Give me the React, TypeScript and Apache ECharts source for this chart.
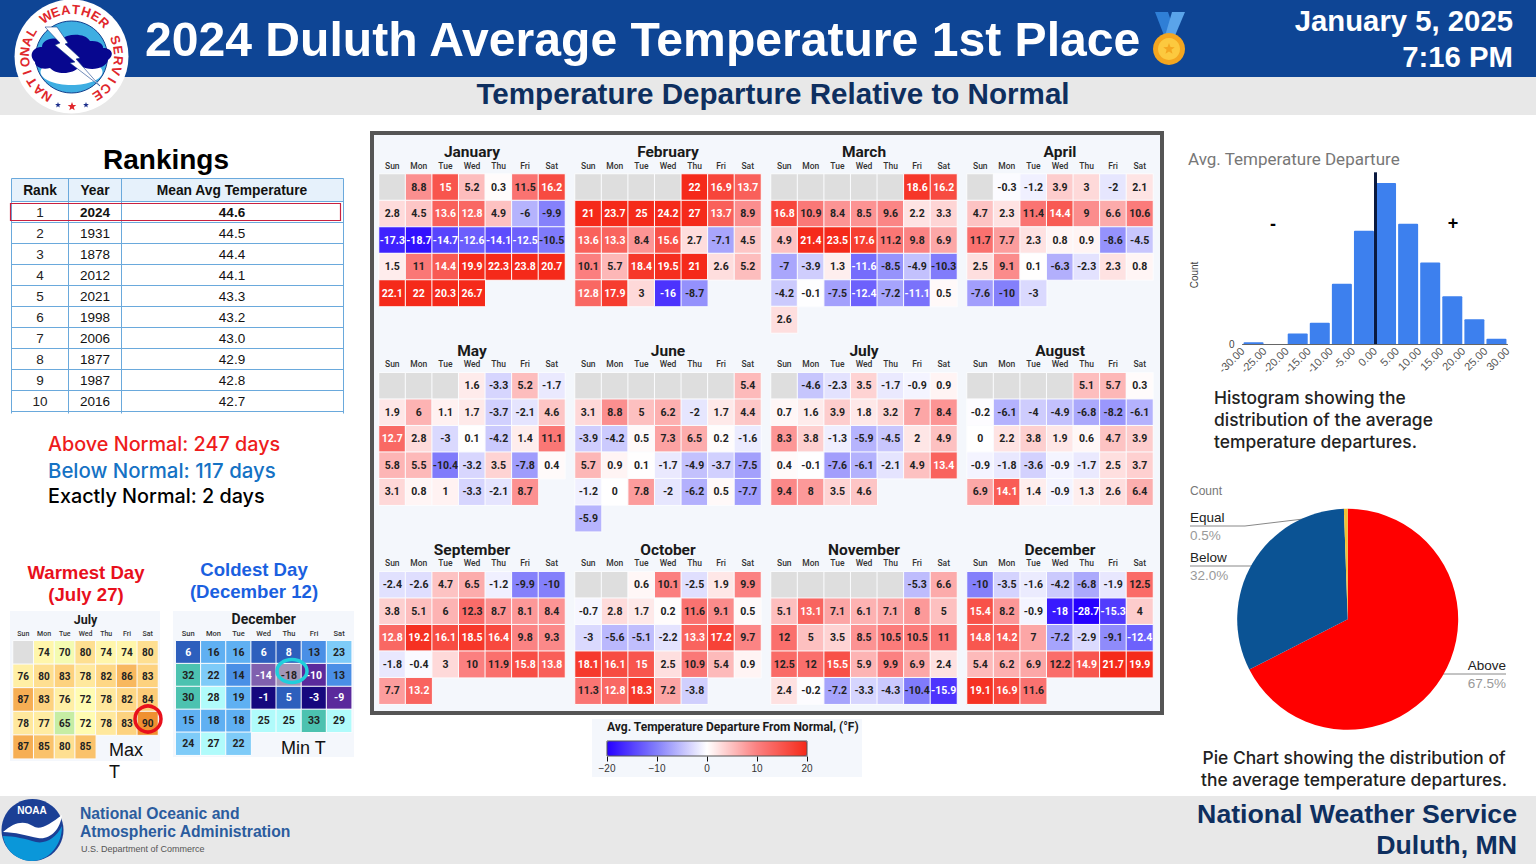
import React, { useEffect, useRef } from "react";
import * as echarts from "echarts";

const monthNames = ["January","February","March","April","May","June","July","August","September","October","November","December"];
const weekdays = ["Sun","Mon","Tue","Wed","Thu","Fri","Sat"];
const firstWeekdays = [1,4,5,1,3,6,1,4,0,2,5,0];

const january = [8.8,15,5.2,0.3,11.5,16.2, 2.8,4.5,13.6,12.8,4.9,-6,-9.9, -17.3,-18.7,-14.7,-12.6,-14.1,-12.5,-10.5, 1.5,11,14.4,19.9,22.3,23.8,20.7, 22.1,22,20.3,26.7];
const february = [22,16.9,13.7, 21,23.7,25,24.2,27,13.7,8.9, 13.6,13.3,8.4,15.6,2.7,-7.1,4.5, 10.1,5.7,18.4,19.5,21,2.6,5.2, 12.8,17.9,3,-16,-8.7];
const march = [18.6,16.2, 16.8,10.9,8.4,8.5,9.6,2.2,3.3, 4.9,21.4,23.5,17.6,11.2,9.8,6.9, -7,-3.9,1.3,-11.6,-8.5,-4.9,-10.3, -4.2,-0.1,-7.5,-12.4,-7.2,-11.1,0.5, 2.6];
const april = [-0.3,-1.2,3.9,3,-2,2.1, 4.7,2.3,11.4,14.4,9,6.6,10.6, 11.7,7.7,2.3,0.8,0.9,-8.6,-4.5, 2.5,9.1,0.1,-6.3,-2.3,2.3,0.8, -7.6,-10,-3];
const may = [1.6,-3.3,5.2,-1.7, 1.9,6,1.1,1.7,-3.7,-2.1,4.6, 12.7,2.8,-3,0.1,-4.2,1.4,11.1, 5.8,5.5,-10.4,-3.2,3.5,-7.8,0.4, 3.1,0.8,1,-3.3,-2.1,8.7];
const june = [5.4, 3.1,8.8,5,6.2,-2,1.7,4.4, -3.9,-4.2,0.5,7.3,6.5,0.2,-1.6, 5.7,0.9,0.1,-1.7,-4.9,-3.7,-7.5, -1.2,0,7.8,-2,-6.2,0.5,-7.7, -5.9];
const july = [-4.6,-2.3,3.5,-1.7,-0.9,0.9, 0.7,1.6,3.9,1.8,3.2,7,8.4, 8.3,3.8,-1.3,-5.9,-4.5,2,4.9, 0.4,-0.1,-7.6,-6.1,-2.1,4.9,13.4, 9.4,8,3.5,4.6];
const august = [5.1,5.7,0.3, -0.2,-6.1,-4,-4.9,-6.8,-8.2,-6.1, 0,2.2,3.8,1.9,0.6,4.7,3.9, -0.9,-1.8,-3.6,-0.9,-1.7,2.5,3.7, 6.9,14.1,1.4,-0.9,1.3,2.6,6.4];
const september = [-2.4,-2.6,4.7,6.5,-1.2,-9.9,-10, 3.8,5.1,6,12.3,8.7,8.1,8.4, 12.8,19.2,16.1,18.5,16.4,9.8,9.3, -1.8,-0.4,3,10,11.9,15.8,13.8, 7.7,13.2];
const october = [0.6,10.1,-2.5,1.9,9.9, -0.7,2.8,1.7,0.2,11.6,9.1,0.5, -3,-5.6,-5.1,-2.2,13.3,17.2,9.7, 18.1,16.1,15,2.5,10.9,5.4,0.9, 11.3,12.8,18.3,7.2,-3.8];
const november = [-5.3,6.6, 5.1,13.1,7.1,6.1,7.1,8,5, 12,5,3.5,8.5,10.5,10.5,11, 12.5,12,15.5,5.9,9.9,6.9,2.4, 2.4,-0.2,-7.2,-3.3,-4.3,-10.4,-15.9];
const december = [-10,-3.5,-1.6,-4.2,-6.8,-1.9,12.5, 15.4,8.2,-0.9,-18,-28.7,-15.3,4, 14.8,14.2,7,-7.2,-2.9,-9.1,-12.4, 5.4,6.2,6.9,12.2,14.9,21.7,19.9, 19.1,16.9,11.6];
const monthValues = [january,february,march,april,may,june,july,august,september,october,november,december];

const julyMaxT = [74,70,80,74,74,80, 76,80,83,78,82,86,83, 87,83,76,72,78,82,84, 78,77,65,72,78,83,90, 87,85,80,85];
const decemberMinT = [6,16,16,6,8,13,23, 32,22,14,-14,-18,-10,13, 30,28,19,-1,5,-3,-9, 15,18,18,25,25,33,29, 24,27,22];

const rankNumbers = [1,2,3,4,5,6,7,8,9,10];
const rankYears = [2024,1931,1878,2012,2021,1998,2006,1877,1987,2016];
const rankTemps = ["44.6","44.5","44.4","44.1","43.3","43.2","43.0","42.9","42.8","42.7"];

const histogramCentres = [-27.5,-22.5,-17.5,-12.5,-7.5,-2.5,2.5,7.5,12.5,17.5,22.5,27.5];
const histogramCounts = [1,0,6,12,34,64,91,68,46,27,14,3];

const pieNames = ["Above","Below","Equal"];
const pieCounts = [247,117,2];

const SANS = '"Liberation Sans"';
const ROBOTO = "Roboto";
const INTER = "Inter";
const NAVY = "#0e2f5f";

const cloudPath = "M35 62C28 55 33 47 42 47C42 40 52 36 60 40C68 33 85 33 90 41C100 40 104 46 103 48C112 48 115 55 108 60C106 68 92 72 80 66C72 76 55 74 50 68C42 70 35 67 35 62Z";
const gullPath = "M3 832C14 822 24 820 33 826C40 831 50 824 62 815C60 830 50 840 38 838C28 836 14 832 3 832Z";
const lowerPath = "M3 836C14 836 26 839 36 842C46 844 56 838 62 826C62 846 48 861 32 861C17 861 5 850 3 836Z";
echarts.graphic.registerShape("nwsCloud", echarts.graphic.extendPath(cloudPath, {}));
echarts.graphic.registerShape("noaaGull", echarts.graphic.extendPath(gullPath, {}));
echarts.graphic.registerShape("noaaLower", echarts.graphic.extendPath(lowerPath, {}));

function T(text: string, x: number, y: number, font: string, fill: string, align = "left", z = 100, rotation = 0) {
  return {
    type: "text", x, y, rotation, z,
    style: { text, font, fill, align, verticalAlign: "middle", textAlign: align, textVerticalAlign: "middle" },
  };
}
function R(x: number, y: number, w: number, h: number, fill: string, z = 0, stroke?: string, lineWidth = 0) {
  return { type: "rect", z, shape: { x, y, width: w, height: h }, style: { fill, stroke, lineWidth } };
}
function L(x1: number, y1: number, x2: number, y2: number, stroke: string, lineWidth = 1, z = 100) {
  return { type: "line", z, shape: { x1, y1, x2, y2 }, style: { stroke, lineWidth } };
}
function star(cx: number, cy: number, r: number, fill: string) {
  const points: number[][] = [];
  for (let i = 0; i < 10; i++) {
    const a = -Math.PI / 2 + (i * Math.PI) / 5;
    const q = i % 2 ? r * 0.42 : r;
    points.push([cx + q * Math.cos(a), cy + q * Math.sin(a)]);
  }
  return { type: "polygon", z: 103, shape: { points }, style: { fill } };
}

function cells(values: number[], first: number, colour: (v: number) => string) {
  return values.map((v, i) => {
    const p = i + first;
    return { value: [p % 7, Math.floor(p / 7), v], label: { color: colour(v) } };
  });
}
function blanks(first: number) {
  const out: number[][] = [];
  for (let i = 0; i < first; i++) out.push([i, 0, 1]);
  return out;
}

function buildOption() {
  const grids: any[] = [], xAxes: any[] = [], yAxes: any[] = [], series: any[] = [];
  const monthSeries: number[] = [];
  const blankSeries: number[] = [];
  const calendar = (
    name: string, left: number, top: number, w: number, rowH: number, rows: number,
    values: number[], first: number, colour: (v: number) => string,
    titleSize: number, dayFont: number, valueFont: number, titleGap: number, dayMargin: number,
  ) => {
    const idx = grids.length;
    grids.push({ left, top, width: w, height: rowH * rows, containLabel: false });
    xAxes.push({
      type: "category", gridIndex: idx, position: "top", data: weekdays,
      axisLine: { show: false }, axisTick: { show: false }, splitLine: { show: false },
      axisLabel: { interval: 0, fontSize: dayFont, fontFamily: ROBOTO, fontWeight: 500, color: "#333", margin: dayMargin },
      name, nameLocation: "middle", nameGap: titleGap,
      nameTextStyle: { fontSize: titleSize, fontFamily: ROBOTO, fontWeight: "bold", color: "#1a1a1a" },
    });
    yAxes.push({
      type: "category", gridIndex: idx, inverse: true, show: false,
      data: Array.from({ length: rows }, (_, i) => String(i)),
    });
    if (first > 0) {
      blankSeries.push(series.length);
      series.push({
        type: "heatmap", xAxisIndex: idx, yAxisIndex: idx, data: blanks(first), z: 2,
        itemStyle: { borderColor: "#fbfcfe", borderWidth: 1 },
        label: { show: false },
        emphasis: { disabled: true },
      });
    }
    const sIdx = series.length;
    series.push({
      type: "heatmap", xAxisIndex: idx, yAxisIndex: idx, z: 3,
      data: cells(values, first, colour),
      itemStyle: { borderColor: "#fbfcfe", borderWidth: 1 },
      label: {
        show: true, fontSize: valueFont, fontFamily: ROBOTO, fontWeight: 700,
        formatter: (p: any) => String(p.value[2]),
      },
      emphasis: { disabled: true },
    });
    return sIdx;
  };

  const lefts = [379, 575, 771, 967];
  const tops = [174, 372.7, 571.7];
  monthNames.forEach((name, m) => {
    const s = calendar(
      name, lefts[m % 4], tops[Math.floor(m / 4)], 186, 26.5, 6,
      monthValues[m], firstWeekdays[m],
      (v) => (v > 12.5 || v < -11 ? "#ffffff" : "#222222"),
      15.5, 8.5, 10.5, 14, 4,
    );
    monthSeries.push(s);
  });
  const julyIdx = calendar("July", 13, 640.7, 145, 23.6, 5, julyMaxT, 1, () => "#222222", 12.5, 7, 10, 15, 3);
  const decIdx = calendar("December", 175.7, 640.7, 176, 22.9, 5, decemberMinT, 0,
    (v) => (v <= 8 && v !== -18 ? "#ffffff" : "#222222"), 14, 7.5, 10.5, 15, 3);

  // colour-bar tick axis
  const legendGrid = grids.length;
  grids.push({ left: 607, top: 755.5, width: 200, height: 1 });
  xAxes.push({
    type: "value", gridIndex: legendGrid, min: -20, max: 20, interval: 10, position: "bottom",
    axisLine: { show: false }, splitLine: { show: false },
    axisTick: { show: true, length: 5, lineStyle: { color: "#111" } },
    axisLabel: { fontSize: 10, fontFamily: SANS, color: "#333", margin: 7, formatter: (v: number) => String(v).replace("-", "\u2212") },
  });
  yAxes.push({ type: "value", gridIndex: legendGrid, show: false });
  series.push({ type: "scatter", xAxisIndex: legendGrid, yAxisIndex: legendGrid, data: [] });

  // histogram
  const histGrid = grids.length;
  grids.push({ left: 1242.5, top: 167, width: 265, height: 177 });
  xAxes.push({
    type: "value", gridIndex: histGrid, min: -30, max: 30, interval: 5,
    axisLine: { show: true, onZero: false, lineStyle: { color: "#666" } }, axisTick: { show: false }, splitLine: { show: false },
    axisLabel: { rotate: 45, fontSize: 11, fontFamily: SANS, color: "#555", margin: 5, formatter: (v: number) => v.toFixed(2) },
  });
  yAxes.push({
    type: "value", gridIndex: histGrid, min: 0, max: 100, interval: 100,
    axisLine: { show: false }, axisTick: { show: false }, splitLine: { show: false },
    axisLabel: { fontSize: 10, fontFamily: SANS, color: "#444", margin: 8, formatter: (v: number) => (v === 0 ? "0" : "") },
  });
  series.push({
    type: "bar", xAxisIndex: histGrid, yAxisIndex: histGrid, barWidth: 20,
    data: histogramCentres.map((c, i) => [c, histogramCounts[i]]),
    itemStyle: { color: "#3d80ee", borderRadius: [1, 1, 0, 0] },
    markLine: {
      silent: true, symbol: "none", label: { show: false },
      lineStyle: { color: "#0a1a40", width: 3, type: "solid" },
      data: [[{ coord: [0, 0] }, { coord: [0, 97] }]],
    },
  });

  // pie
  const pieTotal = pieCounts.reduce((a, b) => a + b, 0);
  const pieLayouts = [
    { x: 1506, y: 674, align: "right", labelLinePoints: [[1437, 674], [1506, 674], [1506, 674]] },
    { x: 1190, y: 566, align: "left", labelLinePoints: [[1257, 566], [1190, 566], [1190, 566]] },
    { x: 1190, y: 526, align: "left", labelLinePoints: [[1345, 514], [1245, 526], [1190, 526]] },
  ];
  series.push({
    type: "pie", center: [1347.7, 619.3], radius: 110.5, startAngle: 90, clockwise: true,
    data: pieNames.map((name, i) => ({ name, value: pieCounts[i] })),
    color: ["#ff0000", "#0b5394", "#f1c232"],
    label: {
      position: "outside", width: 70, overflow: "none",
      formatter: (p: any) => {
        const pct = ((p.value / pieTotal) * 100).toFixed(1);
        return p.dataIndex === 0 ? `{nr|${p.name}}\n{pr|${pct}%}` : `{n|${p.name}}\n{p|${pct}%}`;
      },
      rich: {
        n: { fontSize: 13.5, fontFamily: SANS, color: "#222", lineHeight: 18, align: "left" },
        p: { fontSize: 13.5, fontFamily: SANS, color: "#999", lineHeight: 18, align: "left" },
        nr: { fontSize: 13.5, fontFamily: SANS, color: "#222", lineHeight: 18, align: "right" },
        pr: { fontSize: 13.5, fontFamily: SANS, color: "#999", lineHeight: 18, align: "right" },
      },
    },
    labelLine: { show: true, lineStyle: { color: "#888", width: 1 } },
    labelLayout: (p: any) => {
      const l = pieLayouts[p.dataIndex];
      return { x: l.x, y: l.y, align: l.align, verticalAlign: "middle", labelLinePoints: l.labelLinePoints };
    },
    emphasis: { disabled: true },
  });

  // graphic elements
  const el: any[] = [];
  el.push(R(0, 0, 1536, 864, "#ffffff", -2));
  el.push(R(0, 0, 1536, 77, "#0e4595", -1));
  el.push(R(0, 77, 1536, 38, "#e8e8e8", -1));
  el.push(R(0, 796, 1536, 68, "#e8e8e8", -1));
  el.push(R(372, 133, 790, 580, "#f4f7fc", -1, "#555555", 4));
  el.push(R(592, 719, 270, 58, "#f4f7fc", -1));
  el.push(R(10, 611, 150, 150, "#f4f7fc", -1));
  el.push(R(173, 611, 181, 146, "#f4f7fc", -1));

  el.push(T("2024 Duluth Average Temperature 1st Place", 145, 38.5, `bold 48.1px ${SANS}`, "#ffffff"));
  el.push(T("January 5, 2025", 1513, 20, `bold 29.3px ${SANS}`, "#ffffff", "right"));
  el.push(T("7:16 PM", 1513, 56, `bold 29.3px ${SANS}`, "#ffffff", "right"));
  el.push(T("Temperature Departure Relative to Normal", 773, 93.5, `bold 29.6px ${SANS}`, NAVY, "center"));
  el.push(T("National Oceanic and", 80, 813, `bold 15.7px ${SANS}`, "#2b5c9e"));
  el.push(T("Atmospheric Administration", 80, 831, `bold 15.7px ${SANS}`, "#2b5c9e"));
  el.push(T("U.S. Department of Commerce", 81, 849, `9px ${SANS}`, "#555555"));
  el.push(T("National Weather Service", 1517, 814, `bold 26.7px ${SANS}`, NAVY, "right"));
  el.push(T("Duluth, MN", 1517, 845, `bold 26.7px ${SANS}`, NAVY, "right"));

  // medal
  el.push({ type: "polygon", z: 101, shape: { points: [[1155, 12], [1168, 12], [1176, 36], [1165, 38]] }, style: { fill: "#2f7fd6" } });
  el.push({ type: "polygon", z: 101, shape: { points: [[1172, 12], [1185, 12], [1174, 38], [1165, 36]] }, style: { fill: "#5aa4ea" } });
  el.push({ type: "circle", z: 102, shape: { cx: 1169, cy: 49, r: 16 }, style: { fill: "#f4a620" } });
  el.push({ type: "circle", z: 102, shape: { cx: 1169, cy: 49, r: 11 }, style: { fill: "#fcc93f" } });
  el.push(star(1169, 49, 6, "#f4a620"));

  // NWS logo
  el.push({ type: "circle", z: 100, shape: { cx: 71.5, cy: 56.5, r: 57 }, style: { fill: "#ffffff" } });
  el.push({ type: "circle", z: 101, shape: { cx: 71.5, cy: 57, r: 36 }, style: { fill: "#3eaee2", stroke: "#123f8c", lineWidth: 1 } });
  el.push({ type: "ellipse", z: 101, shape: { cx: 71.5, cy: 72, rx: 31, ry: 13 }, style: { fill: "#ffffff" } });
  el.push({ type: "nwsCloud", z: 102, x: 0, y: 0, style: { fill: "#07078f" } });
  el.push({ type: "polygon", z: 103, shape: { points: [[45, 27], [57, 27], [68, 43], [65, 44], [80, 58], [76, 59], [100, 86], [70, 63], [75, 62], [55, 45], [60, 43]] }, style: { fill: "#ffffff", stroke: "#123f8c", lineWidth: 0.6 } });
  const logoText = "NATIONAL WEATHER SERVICE";
  logoText.split("").forEach((ch, i) => {
    if (ch === " ") return;
    const deg = 212 + (i * 294) / (logoText.length - 1);
    const a = (deg * Math.PI) / 180;
    el.push(T(ch, 71.5 + 47 * Math.sin(a), 56.5 - 47 * Math.cos(a), `bold 13px ${SANS}`, "#e0262b", "center", 103, -a));
  });
  el.push(star(58, 105, 3, "#1c2f8c"));
  el.push(star(72, 106.5, 4.5, "#e0262b"));
  el.push(star(86, 105, 3, "#1c2f8c"));

  // NOAA logo
  el.push({ type: "circle", z: 100, shape: { cx: 32.5, cy: 830, r: 31 }, style: { fill: "#1b3f95" } });
  el.push({ type: "noaaLower", z: 101, x: 0, y: 0, style: { fill: "#0a97d9" } });
  el.push({ type: "noaaGull", z: 102, x: 0, y: 0, style: { fill: "#ffffff" } });
  el.push(T("NOAA", 32, 810, `bold 10px ${SANS}`, "#ffffff", "center", 103));

  // rankings table
  el.push(T("Rankings", 166, 159.5, `bold 28px ${SANS}`, "#000000", "center"));
  el.push(R(11.5, 179, 332, 22.5, "#e6f1fb", 1));
  const columnX = [11.5, 68.5, 121.5, 343.5];
  const rowY = [178.5, 201.5, 222.5, 243.5, 264.5, 285.5, 306.5, 327.5, 348.5, 369.5, 390.5, 411.5];
  rowY.forEach((y) => el.push(L(11.5, y, 343.5, y, "#6aa9dc")));
  columnX.forEach((x) => el.push(L(x, 178.5, x, 413.5, "#6aa9dc")));
  const centreX = [40, 95, 232];
  ["Rank", "Year", "Mean Avg Temperature"].forEach((h, i) => el.push(T(h, centreX[i], 190.5, `bold 13.8px ${SANS}`, "#111", "center", 101)));
  rankNumbers.forEach((n, i) => {
    const y = 212 + 21 * i;
    el.push(T(String(n), centreX[0], y, `13.5px ${SANS}`, "#222", "center", 101));
    el.push(T(String(rankYears[i]), centreX[1], y, `${i === 0 ? "bold " : ""}13.5px ${SANS}`, "#111", "center", 101));
    el.push(T(rankTemps[i], centreX[2], y, `${i === 0 ? "bold " : ""}13.5px ${SANS}`, "#111", "center", 101));
  });
  el.push(R(10.5, 203.5, 330, 17, "transparent", 102, "#c8203f", 1.2));

  el.push(T("Above Normal: 247 days", 48, 444, `500 19.8px ${INTER}`, "#ee1c1c"));
  el.push(T("Below Normal: 117 days", 48, 470, `500 20.4px ${INTER}`, "#1572c4"));
  el.push(T("Exactly Normal: 2 days", 48, 496, `500 19.8px ${INTER}`, "#000000"));

  // warmest / coldest
  el.push(T("Warmest Day", 86, 572.5, `bold 18.6px ${SANS}`, "#e8101c", "center"));
  el.push(T("(July 27)", 86, 594.5, `bold 18.6px ${SANS}`, "#e8101c", "center"));
  el.push(T("Coldest Day", 254, 569.5, `bold 18.6px ${SANS}`, "#1a60e0", "center"));
  el.push(T("(December 12)", 254, 591.5, `bold 18.6px ${SANS}`, "#1a60e0", "center"));
  el.push({ type: "circle", z: 110, shape: { cx: 148, cy: 719, r: 13 }, style: { fill: "transparent", stroke: "#e8101c", lineWidth: 3.5 } });
  el.push({ type: "ellipse", z: 110, shape: { cx: 292, cy: 671, rx: 15, ry: 11.5 }, style: { fill: "transparent", stroke: "#20cfdc", lineWidth: 3.5 } });
  el.push(T("Max", 109, 750, `18px ${SANS}`, "#111"));
  el.push(T("T", 109, 772, `18px ${SANS}`, "#111"));
  el.push(T("Min T", 281, 748, `18px ${SANS}`, "#111"));

  // legend labels
  el.push(T("Avg. Temperature Departure From Normal, (\u00b0F)", 607, 726.5, `bold 12px ${ROBOTO}`, "#1a1a1a"));
  el.push(R(607, 741, 200, 15, "transparent", 50, "#555555", 1));

  // right column
  el.push(T("Avg. Temperature Departure", 1188, 158.5, `17px ${ROBOTO}`, "#777777"));
  el.push(T("Count", 1194, 275, `10px ${SANS}`, "#444444", "center", 100, Math.PI / 2));
  el.push(T("-", 1273, 224, `bold 18px ${SANS}`, "#000000", "center"));
  el.push(T("+", 1453, 223, `bold 18px ${SANS}`, "#000000", "center"));
  el.push(T("Histogram showing the", 1214, 397.5, `500 17.4px ${INTER}`, "#222222"));
  el.push(T("distribution of the average", 1214, 419.5, `500 17.4px ${INTER}`, "#222222"));
  el.push(T("temperature departures.", 1214, 441.5, `500 17.4px ${INTER}`, "#222222"));
  el.push(T("Count", 1190, 491, `12px ${SANS}`, "#777777"));
  el.push(T("Pie Chart showing the distribution of", 1354, 757.5, `500 17.4px ${INTER}`, "#222222", "center"));
  el.push(T("the average temperature departures.", 1354, 779.5, `500 17.4px ${INTER}`, "#222222", "center"));

  return {
    animation: false,
    backgroundColor: "#ffffff",
    grid: grids,
    xAxis: xAxes,
    yAxis: yAxes,
    series,
    graphic: { elements: el },
    visualMap: [
      {
        type: "continuous", seriesIndex: monthSeries, min: -20, max: 20, dimension: 2,
        orient: "horizontal", left: 607, top: 741, itemWidth: 15, itemHeight: 200, padding: 0,
        text: null, showLabel: false, calculable: false, hoverLink: false, z: 10,
        inRange: { color: ["#2600ff", "#8480fb", "#ffffff", "#fb8080", "#f52a1a"] },
        outOfRange: { color: ["#2600ff"] },
      },
      {
        type: "continuous", seriesIndex: [julyIdx], min: 65, max: 90, dimension: 2, show: false,
        inRange: { color: ["#c6eda4", "#ffffb4", "#ffeaa0", "#fdcf7a", "#f09030"] },
      },
      {
        type: "piecewise", seriesIndex: [decIdx], dimension: 2, show: false,
        pieces: [
          { lt: -16, color: "#a396b8" },
          { gte: -16, lt: -12, color: "#8060ae" },
          { gte: -12, lt: -5, color: "#5a2a9c" },
          { gte: -5, lt: 0, color: "#16087e" },
          { gte: 0, lt: 10, color: "#2d5fbd" },
          { gte: 10, lt: 15, color: "#4a8fe6" },
          { gte: 15, lt: 22, color: "#5fb0f2" },
          { gte: 22, lt: 25, color: "#7ecbf8" },
          { gte: 25, lt: 30, color: "#b0fbfb" },
          { gte: 30, color: "#4cc2b0" },
        ],
      },
      {
        type: "continuous", seriesIndex: blankSeries, min: 0, max: 2, dimension: 2, show: false,
        inRange: { color: ["#dedede", "#dedede"] },
      },
    ],
  };
}

export default function App() {
  const ref = useRef<HTMLDivElement>(null);
  useEffect(() => {
    const chart = echarts.init(ref.current!, undefined, { renderer: "svg" });
    chart.setOption(buildOption() as any);
    return () => chart.dispose();
  }, []);
  return <div ref={ref} style={{ position: "absolute", left: 0, top: 0, width: 1536, height: 864 }} />;
}
